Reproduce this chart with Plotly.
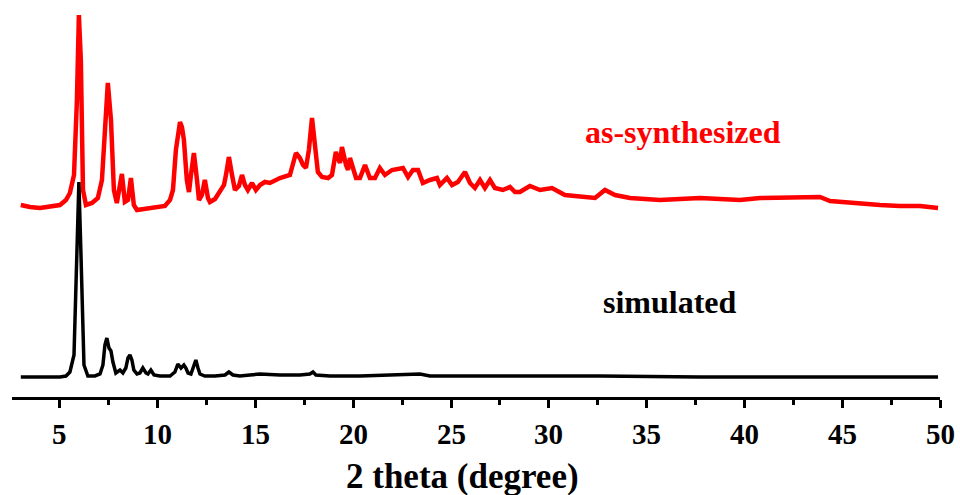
import plotly.graph_objects as go

# ---- data (2 theta in degrees, intensity in a.u.) ----
synth_x = [3.00, 3.47, 3.98, 4.49, 5.00, 5.31, 5.51, 5.72, 5.87, 5.97, 6.07, 6.18, 6.33, 6.64, 6.94,
           7.15, 7.30, 7.45, 7.61, 7.76, 7.91, 8.17, 8.32, 8.48, 8.63, 8.78, 8.94, 9.35, 9.86, 10.37,
           10.63, 10.78, 10.93, 11.14, 11.24, 11.34, 11.49, 11.60, 11.70, 11.85, 12.01, 12.11, 12.26,
           12.41, 12.57, 12.67, 12.93, 13.18, 13.39, 13.49, 13.64, 13.80, 13.95, 14.15, 14.31, 14.46,
           14.61, 14.82, 15.02, 15.23, 15.48, 15.74, 16.25, 16.76, 16.91, 17.07, 17.27, 17.43, 17.58,
           17.73, 17.89, 17.99, 18.09, 18.19, 18.40, 18.71, 18.91, 19.11, 19.32, 19.42, 19.63, 19.73,
           19.83, 20.03, 20.14, 20.34, 20.60, 20.85, 21.11, 21.36, 21.62, 21.98, 22.28, 22.54, 22.80,
           23.05, 23.31, 23.56, 23.92, 24.28, 24.43, 24.79, 25.05, 25.35, 25.71, 25.97, 26.22, 26.48,
           26.73, 26.99, 27.24, 27.65, 28.01, 28.27, 28.52, 29.03, 29.55, 30.16, 30.82, 31.59, 32.36,
           32.87, 33.38, 34.15, 35.17, 35.68, 36.70, 37.73, 38.75, 39.77, 40.80, 41.82, 42.84, 43.86,
           44.38, 45.40, 46.42, 46.93, 47.95, 48.98, 49.90]
synth_y = [192, 190, 189, 190, 192, 197, 204, 222, 297, 382, 337, 207, 192, 194, 199,
           217, 277, 314, 277, 207, 194, 223, 195, 197, 219, 192, 187, 188, 189, 191,
           197, 207, 247, 275, 270, 257, 217, 205, 222, 244, 217, 197, 202,
           217, 199, 195, 198, 205, 212, 222, 240, 222, 207, 211, 222, 212,
           207, 214, 207, 212, 215, 214, 219, 222, 232, 244, 239, 232, 229,
           247, 279, 262, 237, 225, 220, 219, 222, 245, 234, 250, 232, 227,
           239, 227, 219, 219, 232, 219, 219, 229, 222, 227, 228, 229, 220,
           227, 227, 214, 217, 219, 212, 219, 212, 215, 225, 214, 209, 217,
           209, 217, 209, 207, 210, 205, 205, 211, 207, 209, 202, 200, 199,
           207, 202, 199, 197, 197, 198, 199, 198, 197, 199, 199, 200, 200,
           196, 194, 193, 192, 191, 191, 189]

sim_x = [3.00, 3.98, 5.00, 5.31, 5.51, 5.72, 5.87, 5.97, 6.07, 6.23, 6.43, 6.79, 7.05, 7.20, 7.30,
         7.40, 7.51, 7.61, 7.71, 7.86, 8.07, 8.22, 8.37, 8.48, 8.58, 8.68, 8.78, 8.94, 9.09, 9.24,
         9.40, 9.50, 9.65, 9.81, 10.11, 10.63, 10.88, 11.03, 11.19, 11.34, 11.44, 11.55, 11.70,
         11.85, 11.95, 12.06, 12.16, 12.41, 12.93, 13.44, 13.64, 13.85, 14.20, 14.72, 15.23, 16.25,
         17.27, 17.78, 17.94, 18.09, 18.81, 20.34, 22.39, 23.41, 23.92, 27.50, 32.61, 37.73, 42.84,
         49.90]
sim_y = [20, 20, 20, 21, 25, 42, 147, 215, 147, 32, 21, 21, 23, 32, 52,
         59, 49, 46, 35, 24, 27, 24, 29, 39, 42, 37, 27, 23, 24, 29,
         24, 23, 27, 22, 21, 21, 25, 33, 29, 32, 29, 24, 23,
         32, 37, 29, 23, 21, 21, 22, 25, 22, 21, 22, 23, 22,
         22, 23, 25, 22, 21, 21, 22, 23, 21, 21, 21, 20, 20,
         20]

x_ticks = [5, 10, 15, 20, 25, 30, 35, 40, 45, 50]
x_minor_ticks = [7.5, 12.5, 17.5, 22.5, 27.5, 32.5, 37.5, 42.5, 47.5]
series_labels = ["as-synthesized", "simulated"]
x_title = "2 theta (degree)"

FONT = "Liberation Serif"

fig = go.Figure()
fig.add_trace(go.Scatter(x=synth_x, y=synth_y, mode="lines",
                         line=dict(color="#ff0000", width=4.5), name=series_labels[0]))
fig.add_trace(go.Scatter(x=sim_x, y=sim_y, mode="lines",
                         line=dict(color="#000000", width=3.5), name=series_labels[1]))

fig.add_annotation(text="<b>%s</b>" % series_labels[0], xref="paper", yref="paper",
                   x=0.723, y=0.685, xanchor="center", yanchor="middle", showarrow=False,
                   font=dict(family=FONT, size=32, color="#ff0000"))
fig.add_annotation(text="<b>%s</b>" % series_labels[1], xref="paper", yref="paper",
                   x=0.709, y=0.245, xanchor="center", yanchor="middle", showarrow=False,
                   font=dict(family=FONT, size=32, color="#000000"))
fig.add_annotation(text="<b>%s</b>" % x_title, xref="paper", yref="paper",
                   x=0.485, y=-0.205, xanchor="center", yanchor="middle", showarrow=False,
                   font=dict(family=FONT, size=35, color="#000000"))

# bold tick labels, placed at the axis tick values
for v in x_ticks:
    fig.add_annotation(text="<b>%d</b>" % v, xref="x", yref="paper",
                       x=v, y=-0.095, xanchor="center", yanchor="middle", showarrow=False,
                       font=dict(family=FONT, size=29, color="#000000"))

fig.update_layout(
    width=960, height=495,
    margin=dict(l=12, r=20, t=10, b=98),
    paper_bgcolor="white", plot_bgcolor="white",
    showlegend=False,
    xaxis=dict(range=[2.55, 50], tickvals=x_ticks, showticklabels=False,
               showgrid=False, zeroline=False, showline=True, linecolor="black", linewidth=3,
               ticks="outside", ticklen=8, tickwidth=3, tickcolor="black",
               minor=dict(tickvals=x_minor_ticks,
                          ticks="outside", ticklen=5, tickwidth=3, tickcolor="black")),
    yaxis=dict(range=[0, 387], visible=False),
)

fig.write_html("out.html")
